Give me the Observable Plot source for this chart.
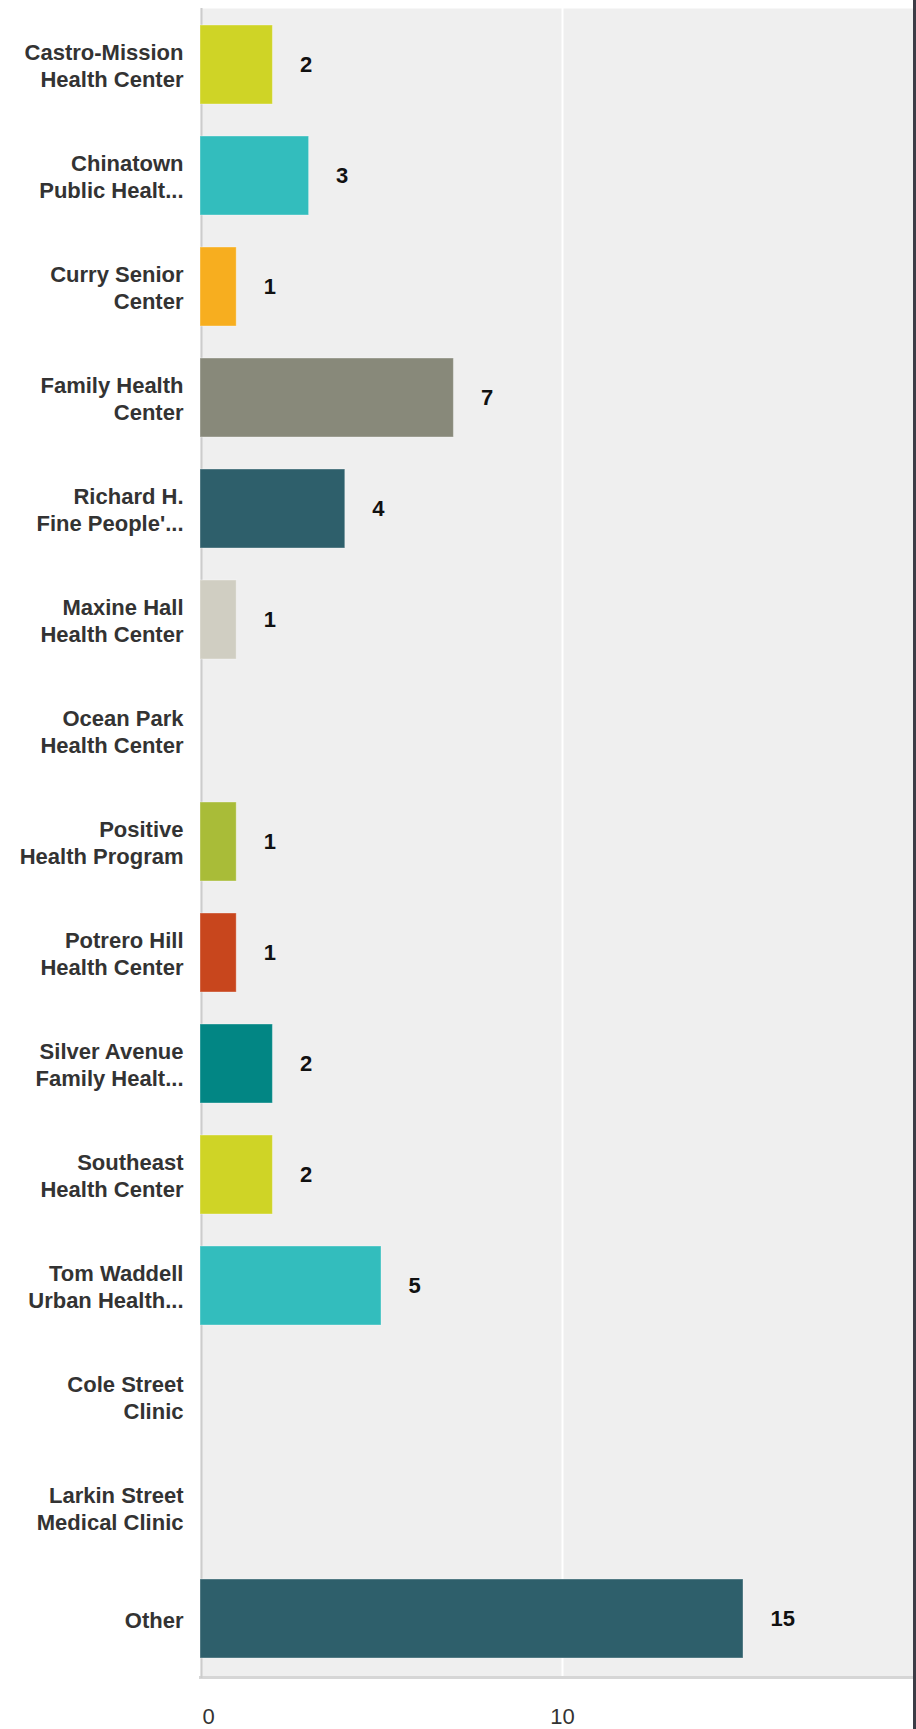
<!DOCTYPE html>
<html>
<head>
<meta charset="utf-8">
<script src="https://cdn.jsdelivr.net/npm/d3@7"></script>
<script src="https://cdn.jsdelivr.net/npm/@observablehq/plot@0.6"></script>
<style>
  html, body { margin: 0; padding: 0; background: #fff; }
  #wrap { position: relative; width: 916px; height: 1729px; overflow: hidden; }
  #chart { position: absolute; left: 0; top: 0; width: 913px; height: 1729px; overflow: hidden; }
  #chart svg { max-width: none !important; width: 924px; height: 1729px; }
  #edge { position: absolute; right: 0; top: 0; width: 3px; height: 1729px; background: #3c3c46; }
</style>
</head>
<body>
<div id="wrap"><div id="chart"></div><div id="edge"></div></div>
<script>
const categories = [
  "Castro-Mission\nHealth Center",
  "Chinatown\nPublic Healt...",
  "Curry Senior\nCenter",
  "Family Health\nCenter",
  "Richard H.\nFine People'...",
  "Maxine Hall\nHealth Center",
  "Ocean Park\nHealth Center",
  "Positive\nHealth Program",
  "Potrero Hill\nHealth Center",
  "Silver Avenue\nFamily Healt...",
  "Southeast\nHealth Center",
  "Tom Waddell\nUrban Health...",
  "Cole Street\nClinic",
  "Larkin Street\nMedical Clinic",
  "Other"
];
const values = [2, 3, 1, 7, 4, 1, 0, 1, 1, 2, 2, 5, 0, 0, 15];
const colors = [
  "#cfd426", "#33bdbd", "#f7ae1f", "#88897a", "#2e5f6b",
  "#d0cec2", "#6e9e3e", "#a9bc38", "#c8461d", "#028684",
  "#cfd426", "#33bdbd", "#f7ae1f", "#88897a", "#2e5f6b"
];
const xTicks = [0, 10];

const data = categories.map((c, i) => ({label: c, value: values[i], color: colors[i]}));

const chart = Plot.plot({
  width: 924,
  height: 1729,
  marginLeft: 200,
  marginRight: 0,
  marginTop: 8,
  marginBottom: 53,
  style: {fontFamily: "'Liberation Sans', Arial, sans-serif", fontSize: "22px", background: "transparent", maxWidth: "none"},
  x: {domain: [0, 20], axis: null, label: null},
  y: {domain: categories, paddingInner: 0.285, paddingOuter: 0.1425, axis: null, label: null},
  color: {type: "identity"},
  marks: [
    Plot.frame({fill: "#efefef"}),
    Plot.frame({anchor: "bottom", stroke: "#d6d6d6", strokeWidth: 3, dy: 1}),
    Plot.ruleX(xTicks.filter(d => d > 0), {stroke: "#ffffff", strokeWidth: 2}),
    Plot.ruleX([0], {stroke: "#cccccc", strokeWidth: 2, dx: 1, insetBottom: -2}),
    Plot.barX(data, {x: "value", y: "label", fill: "color", stroke: "#ffffff", strokeOpacity: 0.35, strokeWidth: 1}),
    Plot.text(data.filter(d => d.value > 0), {
      x: "value", y: "label", text: d => String(d.value),
      textAnchor: "start", dx: 27, fontWeight: "bold", fill: "#111", fontSize: 22
    }),
    Plot.text(data, {
      x: 0, y: "label", text: "label",
      textAnchor: "end", dx: -17, fontWeight: "bold", fill: "#333", fontSize: 22, lineHeight: 1.23
    }),
    Plot.axisX([0], {tickSize: 0, tickPadding: 32, dx: 8, fill: "#333", fontSize: 22, label: null, tickFormat: d => String(d)}),
    Plot.axisX(xTicks.filter(d => d > 0), {tickSize: 0, tickPadding: 32, fill: "#333", fontSize: 22, label: null, tickFormat: d => String(d)})
  ]
});
document.getElementById("chart").appendChild(chart);
</script>
</body>
</html>
